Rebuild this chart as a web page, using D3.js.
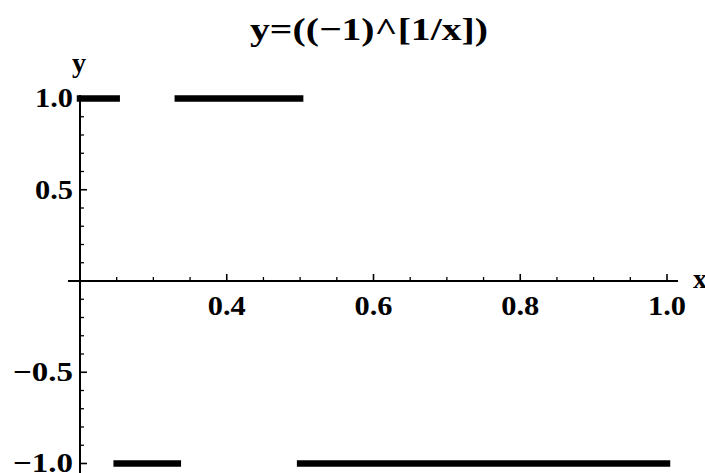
<!DOCTYPE html>
<html>
<head>
<meta charset="utf-8">
<script src="https://cdn.jsdelivr.net/npm/d3@7"></script>
<style>
  html, body { margin: 0; padding: 0; background: #fff; }
  svg { display: block; }
  text { font-family: "Liberation Serif", "DejaVu Serif", serif; font-weight: bold; fill: #000; }
</style>
</head>
<body>
<svg id="chart" width="705" height="473"></svg>
<script>
// Step function y = (-1)^floor(1/x): one horizontal piece per interval
const segStart = [0.2, 0.25, 0.3333, 0.5];
const segEnd   = [0.25, 0.3333, 0.5, 1.0];
const segValue = [1, -1, 1, -1];

// Tick values and labels
const xMajorTicks = [0.4, 0.6, 0.8, 1.0];
const xTickLabels = ["0.4", "0.6", "0.8", "1.0"];
const xMinorTicks = [0.25, 0.3, 0.35, 0.45, 0.5, 0.55, 0.65, 0.7, 0.75, 0.85, 0.9, 0.95];
const yMajorTicks = [1.0, 0.5, -0.5, -1.0];
const yTickLabels = ["1.0", "0.5", "\u22120.5", "\u22121.0"];
const yMinorTicks = [0.9, 0.8, 0.7, 0.6, 0.4, 0.3, 0.2, 0.1, -0.1, -0.2, -0.3, -0.4, -0.6, -0.7, -0.8, -0.9];

const title = "y=((\u22121)^[1/x])";

const svg = d3.select("#chart");

const x = d3.scaleLinear().domain([0.2, 1.0]).range([80, 667]);
const y = d3.scaleLinear().domain([-1, 1]).range([463.5, 98.5]);

// visible extent of each axis line
const xAxisExtent = [0.1836, 1.015];
const yAxisExtent = [-1.06, 1.019];

const x0 = x(0.2), y0 = y(0);
const axisG = svg.append("g").attr("stroke", "#000");

// axis lines
axisG.append("line")
  .attr("x1", x(xAxisExtent[0])).attr("x2", x(xAxisExtent[1]))
  .attr("y1", y0).attr("y2", y0).attr("stroke-width", 2);
axisG.append("line")
  .attr("x1", x0).attr("x2", x0)
  .attr("y1", y(yAxisExtent[1])).attr("y2", y(yAxisExtent[0])).attr("stroke-width", 2);

// x ticks point up from the axis
axisG.selectAll(".xmaj").data(xMajorTicks).join("line")
  .attr("x1", d => x(d)).attr("x2", d => x(d))
  .attr("y1", y0).attr("y2", y0 - 7).attr("stroke-width", 1.6);
axisG.selectAll(".xmin").data(xMinorTicks).join("line")
  .attr("x1", d => x(d)).attr("x2", d => x(d))
  .attr("y1", y0).attr("y2", y0 - 4).attr("stroke-width", 1.3);

// y ticks point right from the axis
axisG.selectAll(".ymaj").data(yMajorTicks).join("line")
  .attr("x1", x0).attr("x2", x0 + 7)
  .attr("y1", d => y(d)).attr("y2", d => y(d)).attr("stroke-width", 1.6);
axisG.selectAll(".ymin").data(yMinorTicks).join("line")
  .attr("x1", x0).attr("x2", x0 + 4)
  .attr("y1", d => y(d)).attr("y2", d => y(d)).attr("stroke-width", 1.3);

// tick labels (set slightly wide, like the rest of the lettering)
svg.append("g").selectAll("text").data(xMajorTicks).join("text")
  .attr("x", d => x(d)).attr("y", y0 + 34)
  .attr("text-anchor", "middle")
  .attr("textLength", 38).attr("lengthAdjust", "spacingAndGlyphs")
  .style("font-size", "27px")
  .text((d, i) => xTickLabels[i]);

svg.append("g").selectAll("text").data(yMajorTicks).join("text")
  .attr("x", x0 - 7).attr("y", d => y(d)).attr("dy", "0.33em")
  .attr("text-anchor", "end")
  .attr("textLength", (d, i) => yTickLabels[i].length > 3 ? 60 : 38)
  .attr("lengthAdjust", "spacingAndGlyphs")
  .style("font-size", "27px")
  .text((d, i) => yTickLabels[i]);

// axis names
svg.append("text").attr("x", 693).attr("y", y0 + 7)
  .style("font-size", "28px").text("x");
svg.append("text").attr("x", 79).attr("y", 72)
  .attr("text-anchor", "middle")
  .style("font-size", "28px").text("y");

// title
svg.append("text").attr("x", 369).attr("y", 40)
  .attr("text-anchor", "middle")
  .attr("textLength", 238).attr("lengthAdjust", "spacingAndGlyphs")
  .style("font-size", "32px").text(title);

// the function pieces
svg.append("g").selectAll("line").data(segValue).join("line")
  .attr("x1", (d, i) => x(segStart[i])).attr("x2", (d, i) => x(segEnd[i]))
  .attr("y1", d => y(d)).attr("y2", d => y(d))
  .attr("stroke", "#000").attr("stroke-width", 6.5)
  .attr("stroke-linecap", "square");
</script>
</body>
</html>
